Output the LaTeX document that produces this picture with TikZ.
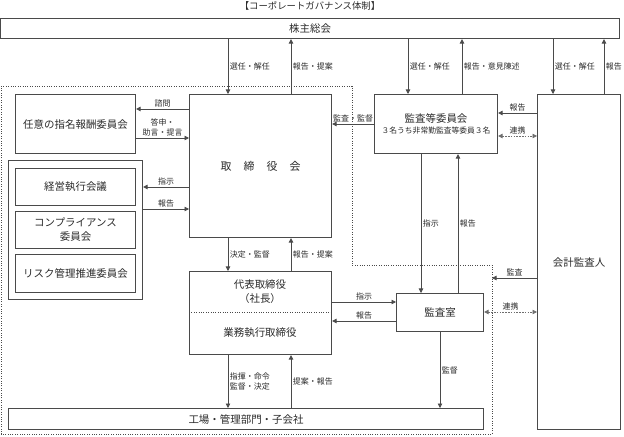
\documentclass[tikz,border=0pt]{standalone}
\usepackage{fontspec}
\setmainfont{Noto Sans CJK JP}
\usetikzlibrary{arrows.meta}
\definecolor{ln}{HTML}{4a4a4a}
\definecolor{tx}{HTML}{2a2a2a}
\begin{document}
\begin{tikzpicture}[x=1bp,y=-1bp,
  box/.style={draw=ln, line width=1.1bp, inner sep=0pt, anchor=north west, align=center, text=tx, font=\fontsize{10.5}{14}\selectfont},
  arr/.style={draw=ln, line width=0.8bp, -{Triangle[length=4.5bp,width=4.5bp]}},
  dar/.style={draw=ln!80, line width=0.8bp, dash pattern=on 1.6bp off 1.2bp, {Triangle[length=4.5bp,width=4.5bp]}-{Triangle[length=4.5bp,width=4.5bp]}},
  lbl/.style={font=\fontsize{8}{9.5}\selectfont, text=tx, inner sep=1.5bp, align=center},
  dotreg/.style={draw=ln, line width=0.9bp, dash pattern=on 1bp off 1.4bp}
]
\useasboundingbox (0,0) rectangle (624,437);
\node[text=tx, font=\fontsize{9.4}{11}\selectfont] (title) at (310,6) {【コーポレートガバナンス体制】};
% dotted region
\draw[dotreg] (1,86) -- (352,86) -- (352,265) -- (492,265) -- (492,434) -- (1,434) -- cycle;
% boxes
\node[box, minimum width=619bp, minimum height=20bp] (kabu) at (0,18) {株主総会};
\node[box, minimum width=120bp, minimum height=59bp] (nin) at (15,94) {任意の指名報酬委員会};
\node[box, minimum width=142bp, minimum height=143bp, font=\fontsize{11}{14}\selectfont] (tori) at (189,94) {取\hspace{12bp}締\hspace{12bp}役\hspace{12bp}会};
\node[box, minimum width=134bp, minimum height=139bp] (grp) at (8,160) {};
\node[box, minimum width=120bp, minimum height=37bp] (keiei) at (15,168) {経営執行会議};
\node[box, minimum width=120bp, minimum height=37bp] (comp) at (15,211) {コンプライアンス\\委員会};
\node[box, minimum width=120bp, minimum height=38bp] (risk) at (15,254) {リスク管理推進委員会};
\node[box, minimum width=123bp, minimum height=59bp] (kansa) at (374,94) {監査等委員会\\[-3bp]{\fontsize{7.8}{9}\selectfont ３名うち非常勤監査等委員３名}};
\node[box, minimum width=83bp, minimum height=335bp] (kaikei) at (537,94) {会計監査人};
\node[box, minimum width=142bp, minimum height=83bp] (dai) at (189,271) {};
\node[text=tx, font=\fontsize{10.5}{14}\selectfont, align=center] (daiT) at (260,292) {代表取締役\\（社長）};
\node[text=tx, font=\fontsize{10.5}{14}\selectfont] (gyomu) at (260,333) {業務執行取締役};
\draw[dotreg] (dai.west |- 0,312) -- (dai.east |- 0,312);
\node[box, minimum width=87bp, minimum height=38bp] (shitsu) at (396,293) {監査室};
\node[box, minimum width=475bp, minimum height=21bp] (kojo) at (8,408) {工場・管理部門・子会社};
% x / y references
\coordinate (xa) at (228,0); \coordinate (xb) at (291,0);
\coordinate (xc) at (408,0); \coordinate (xd) at (462,0);
\coordinate (xe) at (553,0); \coordinate (xf) at (604,0);
\coordinate (xg) at (421,0); \coordinate (xh) at (458,0);
\coordinate (xi) at (440,0);
\coordinate (kb) at (492,278);
% shareholders arrows
\draw[arr] (kabu.south -| xa) -- node[lbl, right] {選任・解任} (tori.north -| xa);
\draw[arr] (tori.north -| xb) -- node[lbl, right] {報告・提案} (kabu.south -| xb);
\draw[arr] (kabu.south -| xc) -- node[lbl, right] {選任・解任} (kansa.north -| xc);
\draw[arr] (kansa.north -| xd) -- node[lbl, right] {報告・意見陳述} (kabu.south -| xd);
\draw[arr] (kabu.south -| xe) -- node[lbl, right] {選任・解任} (kaikei.north -| xe);
\draw[arr] (kaikei.north -| xf) -- node[lbl, right] {報告} (kabu.south -| xf);
% left side
\draw[arr] (tori.west |- 0,109) -- node[lbl, above] {諮問} (nin.east |- 0,109);
\draw[arr] (nin.east |- 0,138) -- node[lbl, above] {答申・\\助言・提言} (tori.west |- 0,138);
\draw[arr] (tori.west |- 0,187) -- node[lbl, above] {指示} (grp.east |- 0,187);
\draw[arr] (grp.east |- 0,209) -- node[lbl, above] {報告} (tori.west |- 0,209);
% audit committee
\draw[arr] (kansa.west |- 0,124) -- node[lbl, above] {監査・監督} (tori.east |- 0,124);
\draw[arr] (kaikei.west |- 0,113) -- node[lbl, above] {報告} (kansa.east |- 0,113);
\draw[dar] (kansa.east |- 0,136) -- node[lbl, above] {連携} (kaikei.west |- 0,136);
\draw[arr] (kansa.south -| xg) -- node[lbl, right] {指示} (shitsu.north -| xg);
\draw[arr] (shitsu.north -| xh) -- node[lbl, right] {報告} (kansa.south -| xh);
% board to representative
\draw[arr] (tori.south -| xa) -- node[lbl, right] {決定・監督} (dai.north -| xa);
\draw[arr] (dai.north -| xb) -- node[lbl, right] {報告・提案} (tori.south -| xb);
% representative - audit office
\draw[arr] (dai.east |- 0,302) -- node[lbl, above] {指示} (shitsu.west |- 0,302);
\draw[arr] (shitsu.west |- 0,321) -- node[lbl, above] {報告} (dai.east |- 0,321);
% accounting auditor
\draw[arr] (kaikei.west |- kb) -- node[lbl, above] {監査} (kb);
\draw[dar] (shitsu.east |- 0,312) -- node[lbl, above] {連携} (kaikei.west |- 0,312);
% to factory
\draw[arr] (shitsu.south -| xi) -- node[lbl, right] {監督} (kojo.north -| xi);
\draw[arr] (dai.south -| xa) -- node[lbl, right] {指揮・命令\\監督・決定} (kojo.north -| xa);
\draw[arr] (kojo.north -| xb) -- node[lbl, right] {提案・報告} (dai.south -| xb);
\end{tikzpicture}
\end{document}
